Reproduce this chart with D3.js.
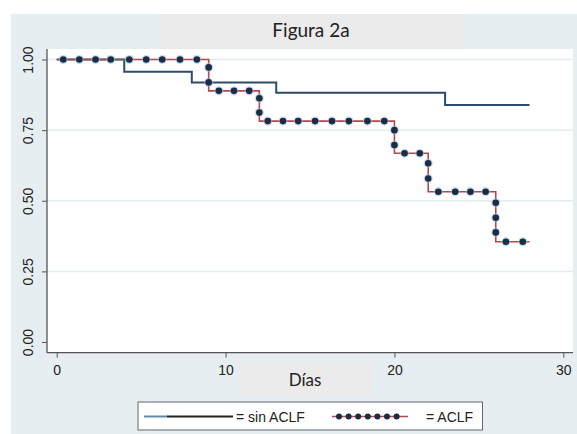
<!DOCTYPE html>
<html>
<head>
<meta charset="utf-8">
<script src="https://cdn.jsdelivr.net/npm/d3@7"></script>
<style>
  body { margin: 0; background: #fff; }
  svg { display: block; }
</style>
</head>
<body>
<script>
// Kaplan-Meier curves
var sinTimes = [0, 4, 8, 13, 23, 28];
var sinSurv  = [1, 0.957, 0.919, 0.882, 0.839, 0.839];

var aclfTimes = [0, 9, 12, 20, 22, 26, 28];
var aclfSurv  = [1, 0.889, 0.782, 0.668, 0.532, 0.355, 0.355];

// markers along the ACLF curve
var markDays = [0.39, 1.34, 2.3, 3.2, 4.3, 5.3, 6.25, 7.3, 8.3,
  9, 9, 9.6, 10.5, 11.4, 12, 12,
  12.5, 13.4, 14.3, 15.3, 16.3, 17.3, 18.4, 19.4,
  20, 20, 20.6, 21.5, 22, 22,
  22.6, 23.6, 24.5, 25.4, 26, 26, 26, 26.6, 27.6];
var markSurv = [1, 1, 1, 1, 1, 1, 1, 1, 1,
  0.972, 0.919, 0.889, 0.889, 0.889, 0.863, 0.812,
  0.782, 0.782, 0.782, 0.782, 0.782, 0.782, 0.782, 0.782,
  0.750, 0.697, 0.668, 0.668, 0.633, 0.579,
  0.532, 0.532, 0.532, 0.532, 0.493, 0.440, 0.388, 0.355, 0.355];

var xTicks = [0, 10, 20, 30];
var yTicks = [0, 0.25, 0.5, 0.75, 1];
var legendLabels = ['= sin ACLF', '= ACLF'];

var W = 577, H = 434;
var blue = '#2e4b6b', red = '#b5474a', navy = '#1b2d45';

var svg = d3.select('body').append('svg')
  .attr('width', W).attr('height', H);

// outer background
svg.append('rect').attr('x', 11).attr('y', 14).attr('width', W - 11).attr('height', H - 14)
  .attr('fill', '#e6eef2');
// title box
svg.append('rect').attr('x', 159).attr('y', 14).attr('width', 304).attr('height', 35)
  .attr('fill', '#ebebeb');
svg.append('text').attr('x', 311).attr('y', 37)
  .attr('text-anchor', 'middle')
  .style('font-family', 'Lato, "Open Sans", sans-serif').style('font-size', '19px')
  .attr('fill', '#222').text('Figura 2a');

// plot area
var pLeft = 47, pRight = 573, pTop = 49, pBottom = 352.7;
svg.append('rect').attr('x', pLeft).attr('y', pTop).attr('width', pRight - pLeft).attr('height', pBottom - pTop)
  .attr('fill', '#fff');

var x = d3.scaleLinear().domain([0, 30]).range([56.7, 563.3]);
var y = d3.scaleLinear().domain([0, 1]).range([342, 59.5]);

// grid
svg.append('g').selectAll('line').data(yTicks.filter(d => d > 0)).enter().append('line')
  .attr('x1', pLeft).attr('x2', pRight)
  .attr('y1', d => y(d)).attr('y2', d => y(d))
  .attr('stroke', '#e3ecf1').attr('stroke-width', 1.5);

// axes
var yAxis = d3.axisLeft(y).tickValues(yTicks).tickFormat(d3.format('.2f')).tickSize(5);
var gy = svg.append('g').attr('transform', 'translate(' + pLeft + ',0)').call(yAxis);
gy.select('.domain').remove();
gy.selectAll('.tick line').attr('stroke', '#555');
gy.selectAll('.tick text')
  .attr('transform', 'rotate(-90,-19,0)')
  .attr('x', -19).attr('y', 0).attr('dy', '0.35em')
  .attr('text-anchor', 'middle')
  .style('font-family', '"Liberation Sans", Arial, sans-serif').style('font-size', '14px')
  .attr('fill', '#222');

var xAxis = d3.axisBottom(x).tickValues(xTicks).tickFormat(d3.format('d')).tickSize(5).tickPadding(7);
var gx = svg.append('g').attr('transform', 'translate(0,' + pBottom + ')').call(xAxis);
gx.select('.domain').remove();
gx.selectAll('.tick line').attr('stroke', '#555');
gx.selectAll('.tick text')
  .style('font-family', '"Liberation Sans", Arial, sans-serif').style('font-size', '14px')
  .attr('fill', '#222');

svg.append('line').attr('x1', pLeft).attr('x2', pLeft).attr('y1', pTop).attr('y2', pBottom)
  .attr('stroke', '#555').attr('stroke-width', 1.3);
svg.append('line').attr('x1', pLeft).attr('x2', pRight).attr('y1', pBottom).attr('y2', pBottom)
  .attr('stroke', '#555').attr('stroke-width', 1.3);

// curves
var line = d3.line().x(d => x(d[0])).y(d => y(d[1])).curve(d3.curveStepAfter);
svg.append('path').datum(d3.zip(sinTimes, sinSurv)).attr('d', line)
  .attr('fill', 'none').attr('stroke', blue).attr('stroke-width', 2);
svg.append('path').datum(d3.zip(aclfTimes, aclfSurv)).attr('d', line)
  .attr('fill', 'none').attr('stroke', red).attr('stroke-width', 1.6);

var marks = d3.zip(markDays, markSurv);
svg.append('g').selectAll('circle').data(marks).enter().append('circle')
  .attr('cx', d => x(d[0])).attr('cy', d => y(d[1])).attr('r', 4.6)
  .attr('fill', '#9fc0dc').attr('opacity', 0.55);
svg.append('g').selectAll('circle').data(marks).enter().append('circle')
  .attr('cx', d => x(d[0])).attr('cy', d => y(d[1])).attr('r', 3.3)
  .attr('fill', navy);

// x title box
svg.append('rect').attr('x', 238).attr('y', 362).attr('width', 134).attr('height', 36)
  .attr('fill', '#ebebeb');
svg.append('text').attr('x', 305).attr('y', 386).attr('text-anchor', 'middle')
  .style('font-family', 'Lato, "Open Sans", sans-serif').style('font-size', '17px')
  .attr('fill', '#222').text('Días');

// legend
var lg = svg.append('g');
lg.append('rect').attr('x', 138).attr('y', 402).attr('width', 344.5).attr('height', 28)
  .attr('fill', '#fff').attr('stroke', '#666').attr('stroke-width', 1);
lg.append('line').attr('x1', 144).attr('x2', 167).attr('y1', 416.5).attr('y2', 416.5)
  .attr('stroke', '#5f87aa').attr('stroke-width', 2);
lg.append('line').attr('x1', 167).attr('x2', 233).attr('y1', 416.5).attr('y2', 416.5)
  .attr('stroke', '#222').attr('stroke-width', 2);
lg.append('text').attr('x', 236).attr('y', 421.5)
  .style('font-family', '"Liberation Sans", Arial, sans-serif').style('font-size', '14px')
  .attr('fill', '#222').text(legendLabels[0]);
lg.append('line').attr('x1', 332).attr('x2', 408).attr('y1', 416.5).attr('y2', 416.5)
  .attr('stroke', red).attr('stroke-width', 1.6);
lg.append('g').selectAll('circle').data(d3.range(7)).enter().append('circle')
  .attr('cx', i => 339 + i * 9.6).attr('cy', 416.5).attr('r', 3)
  .attr('fill', navy);
lg.append('text').attr('x', 426).attr('y', 421.5)
  .style('font-family', '"Liberation Sans", Arial, sans-serif').style('font-size', '14px')
  .attr('fill', '#222').text(legendLabels[1]);
</script>
</body>
</html>
